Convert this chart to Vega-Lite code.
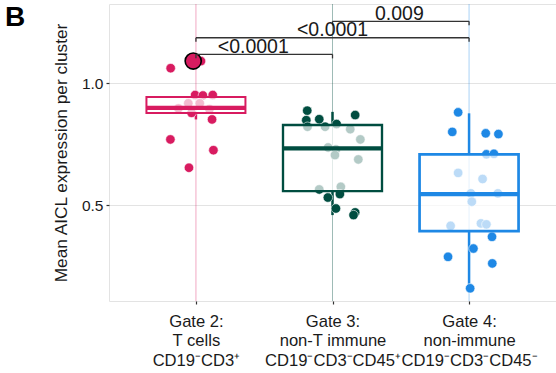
{
 "$schema": "https://vega.github.io/schema/vega-lite/v6.json",
 "width": 447,
 "height": 297,
 "autosize": {"type": "none"},
 "padding": {"left": 109, "top": 4, "right": 0, "bottom": 72},
 "title": {"text": "B", "anchor": "start", "frame": "group", "fontSize": 28, "fontWeight": "bold", "font": "Liberation Sans", "color": "black", "baseline": "top", "dx": -104, "dy": 38, "offset": 10},
 "config": {"view": {"stroke": "#e3e3e3", "strokeWidth": 1}, "font": "Liberation Sans"},
 "datasets": {
  "gates": [{"gate": 1}, {"gate": 2}, {"gate": 3}],
  "points": [
   {"gate": 1, "pos": 1.037, "value": 1.09},
   {"gate": 1, "pos": 0.815, "value": 1.061},
   {"gate": 1, "pos": 0.994, "value": 0.951},
   {"gate": 1, "pos": 1.051, "value": 0.949},
   {"gate": 1, "pos": 1.123, "value": 0.951},
   {"gate": 1, "pos": 0.872, "value": 0.896},
   {"gate": 1, "pos": 0.944, "value": 0.917},
   {"gate": 1, "pos": 1.028, "value": 0.917},
   {"gate": 1, "pos": 1.099, "value": 0.893},
   {"gate": 1, "pos": 0.968, "value": 0.878},
   {"gate": 1, "pos": 1.118, "value": 0.851},
   {"gate": 1, "pos": 0.813, "value": 0.769},
   {"gate": 1, "pos": 1.128, "value": 0.725},
   {"gate": 1, "pos": 0.949, "value": 0.653},
   {"gate": 2, "pos": 1.815, "value": 0.887},
   {"gate": 2, "pos": 1.808, "value": 0.848},
   {"gate": 2, "pos": 1.903, "value": 0.852},
   {"gate": 2, "pos": 2.03, "value": 0.832},
   {"gate": 2, "pos": 2.166, "value": 0.869},
   {"gate": 2, "pos": 1.817, "value": 0.821},
   {"gate": 2, "pos": 1.946, "value": 0.821},
   {"gate": 2, "pos": 2.13, "value": 0.811},
   {"gate": 2, "pos": 2.204, "value": 0.769},
   {"gate": 2, "pos": 1.968, "value": 0.736},
   {"gate": 2, "pos": 2.025, "value": 0.728},
   {"gate": 2, "pos": 2.018, "value": 0.705},
   {"gate": 2, "pos": 2.189, "value": 0.687},
   {"gate": 2, "pos": 1.903, "value": 0.564},
   {"gate": 2, "pos": 2.061, "value": 0.575},
   {"gate": 2, "pos": 1.966, "value": 0.531},
   {"gate": 2, "pos": 2.054, "value": 0.545},
   {"gate": 2, "pos": 2.025, "value": 0.486},
   {"gate": 2, "pos": 2.166, "value": 0.47},
   {"gate": 2, "pos": 2.154, "value": 0.459},
   {"gate": 3, "pos": 2.92, "value": 0.88},
   {"gate": 3, "pos": 2.877, "value": 0.8},
   {"gate": 3, "pos": 3.122, "value": 0.794},
   {"gate": 3, "pos": 3.215, "value": 0.791},
   {"gate": 3, "pos": 3.127, "value": 0.708},
   {"gate": 3, "pos": 3.182, "value": 0.71},
   {"gate": 3, "pos": 2.92, "value": 0.632},
   {"gate": 3, "pos": 3.099, "value": 0.607},
   {"gate": 3, "pos": 3.013, "value": 0.548},
   {"gate": 3, "pos": 3.211, "value": 0.548},
   {"gate": 3, "pos": 3.02, "value": 0.514},
   {"gate": 3, "pos": 2.865, "value": 0.415},
   {"gate": 3, "pos": 3.087, "value": 0.425},
   {"gate": 3, "pos": 3.127, "value": 0.421},
   {"gate": 3, "pos": 3.168, "value": 0.37},
   {"gate": 3, "pos": 3.032, "value": 0.322},
   {"gate": 3, "pos": 2.846, "value": 0.288},
   {"gate": 3, "pos": 3.17, "value": 0.261},
   {"gate": 3, "pos": 3.008, "value": 0.159}
  ],
  "highlight": [{"gate": 1, "pos": 0.98, "value": 1.09}],
  "boxes": [
   {"gate": 1, "lo": 0.851, "q1": 0.877, "med": 0.898, "q3": 0.943, "hi": 0.951},
   {"gate": 2, "lo": 0.459, "q1": 0.557, "med": 0.732, "q3": 0.828, "hi": 0.882},
   {"gate": 3, "lo": 0.159, "q1": 0.393, "med": 0.545, "q3": 0.708, "hi": 0.876}
  ],
  "brackets": [
   {"x1": 1, "x2": 2, "y": 1.1176, "lx": 1.42, "label": "<0.0001"},
   {"x1": 1, "x2": 3, "y": 1.1857, "lx": 2.0, "label": "<0.0001"},
   {"x1": 2, "x2": 3, "y": 1.2529, "lx": 2.49, "label": "0.009"}
  ]
 },
 "layer": [
  {
   "data": {"name": "gates"},
   "mark": {"type": "rule", "strokeWidth": 1, "opacity": 0.38},
   "encoding": {
    "x": {"field": "gate", "type": "quantitative", "title": null, "scale": {"domain": [0.4, 3.6], "nice": false, "zero": false},
     "axis": {"values": [1, 2, 3], "grid": false, "domain": false, "ticks": true, "tickSize": 3, "tickColor": "#333333", "tickWidth": 1.2,
      "title": null, "labelFontSize": 16.6, "labelColor": "#1a1a1a", "labelLineHeight": 19.5, "labelPadding": 9, "labelOverlap": false, "labelBound": false, "labelFlush": false, "labelFont": "Liberation Sans",
      "labelExpr": "datum.value == 1 ? ['Gate 2:', 'T cells', 'CD19⁻CD3⁺'] : datum.value == 2 ? ['Gate 3:', 'non-T immune', 'CD19⁻CD3⁻CD45⁺'] : ['Gate 4:', 'non-immune', 'CD19⁻CD3⁻CD45⁻']"}},
    "color": {"field": "gate", "type": "nominal", "scale": {"domain": [1, 2, 3], "range": ["#D81B60", "#004D40", "#1E88E5"]}, "legend": null}
   }
  },
  {
   "data": {"name": "boxes"},
   "mark": {"type": "rule", "strokeWidth": 2.5},
   "encoding": {
    "x": {"field": "gate", "type": "quantitative", "title": null},
    "y": {"field": "lo", "type": "quantitative", "title": "Mean AICL expression per cluster", "scale": {"domain": [0.107, 1.324], "nice": false, "zero": false},
     "axis": {"values": [0.5, 1.0], "format": ".1f", "title": "Mean AICL expression per cluster", "titleFontSize": 17.3, "titleFontWeight": "normal", "titleColor": "#1a1a1a", "titleFont": "Liberation Sans", "titlePadding": 11,
      "labelFontSize": 15.5, "labelColor": "#1a1a1a", "labelFont": "Liberation Sans", "labelPadding": 3, "tickSize": 3, "tickColor": "#333333", "tickWidth": 1.2, "domain": false, "grid": true, "gridColor": "#e3e3e3", "gridWidth": 1}},
    "y2": {"field": "q1"},
    "color": {"field": "gate", "type": "nominal", "legend": null}
   }
  },
  {
   "data": {"name": "boxes"},
   "mark": {"type": "rule", "strokeWidth": 2.5},
   "encoding": {
    "x": {"field": "gate", "type": "quantitative", "title": null},
    "y": {"field": "q3", "type": "quantitative", "title": "Mean AICL expression per cluster"},
    "y2": {"field": "hi"},
    "color": {"field": "gate", "type": "nominal", "legend": null}
   }
  },
  {
   "data": {"name": "points"},
   "mark": {"type": "circle", "size": 90, "opacity": 1, "stroke": "white", "strokeWidth": 0.6},
   "encoding": {
    "x": {"field": "pos", "type": "quantitative", "title": null},
    "y": {"field": "value", "type": "quantitative", "title": "Mean AICL expression per cluster"},
    "color": {"field": "gate", "type": "nominal", "legend": null}
   }
  },
  {
   "data": {"name": "highlight"},
   "mark": {"type": "circle", "size": 260, "opacity": 1, "stroke": "black", "strokeWidth": 1.6},
   "encoding": {
    "x": {"field": "pos", "type": "quantitative", "title": null},
    "y": {"field": "value", "type": "quantitative", "title": "Mean AICL expression per cluster"},
    "fill": {"field": "gate", "type": "nominal", "scale": {"domain": [1, 2, 3], "range": ["#D81B60", "#004D40", "#1E88E5"]}, "legend": null}
   }
  },
  {
   "data": {"name": "boxes"},
   "mark": {"type": "bar", "width": 99, "fill": "white", "fillOpacity": 0.7, "orient": "vertical"},
   "encoding": {
    "x": {"field": "gate", "type": "quantitative", "title": null},
    "y": {"field": "q1", "type": "quantitative", "title": "Mean AICL expression per cluster"},
    "y2": {"field": "q3"},
    "stroke": {"field": "gate", "type": "nominal", "scale": {"domain": [1, 2, 3], "range": ["#D81B60", "#004D40", "#1E88E5"]}, "legend": null},
    "strokeWidth": {"field": "gate", "type": "nominal", "scale": {"domain": [1, 2, 3], "range": [2, 2.7, 1.6]}, "legend": null}
   }
  },
  {
   "data": {"name": "boxes"},
   "mark": {"type": "tick", "orient": "horizontal", "size": 99, "thickness": 4.3, "opacity": 1},
   "encoding": {
    "x": {"field": "gate", "type": "quantitative", "title": null},
    "y": {"field": "med", "type": "quantitative", "title": "Mean AICL expression per cluster"},
    "color": {"field": "gate", "type": "nominal", "legend": null}
   }
  },
  {
   "data": {"name": "brackets"},
   "mark": {"type": "rule", "strokeWidth": 1.3, "color": "#333333"},
   "encoding": {
    "x": {"field": "x1", "type": "quantitative", "title": null},
    "x2": {"field": "x2"},
    "y": {"field": "y", "type": "quantitative", "title": "Mean AICL expression per cluster"}
   }
  },
  {
   "data": {"name": "brackets"},
   "mark": {"type": "tick", "orient": "vertical", "size": 4, "thickness": 1.3, "color": "#333333", "yOffset": 2, "opacity": 1},
   "encoding": {
    "x": {"field": "x1", "type": "quantitative", "title": null},
    "y": {"field": "y", "type": "quantitative", "title": "Mean AICL expression per cluster"}
   }
  },
  {
   "data": {"name": "brackets"},
   "mark": {"type": "tick", "orient": "vertical", "size": 4, "thickness": 1.3, "color": "#333333", "yOffset": 2, "opacity": 1},
   "encoding": {
    "x": {"field": "x2", "type": "quantitative", "title": null},
    "y": {"field": "y", "type": "quantitative", "title": "Mean AICL expression per cluster"}
   }
  },
  {
   "data": {"name": "brackets"},
   "mark": {"type": "text", "fontSize": 19.5, "font": "Liberation Sans", "color": "#1a1a1a", "baseline": "alphabetic", "align": "center", "dy": -1.5},
   "encoding": {
    "x": {"field": "lx", "type": "quantitative", "title": null},
    "y": {"field": "y", "type": "quantitative", "title": "Mean AICL expression per cluster"},
    "text": {"field": "label"}
   }
  }
 ]
}
